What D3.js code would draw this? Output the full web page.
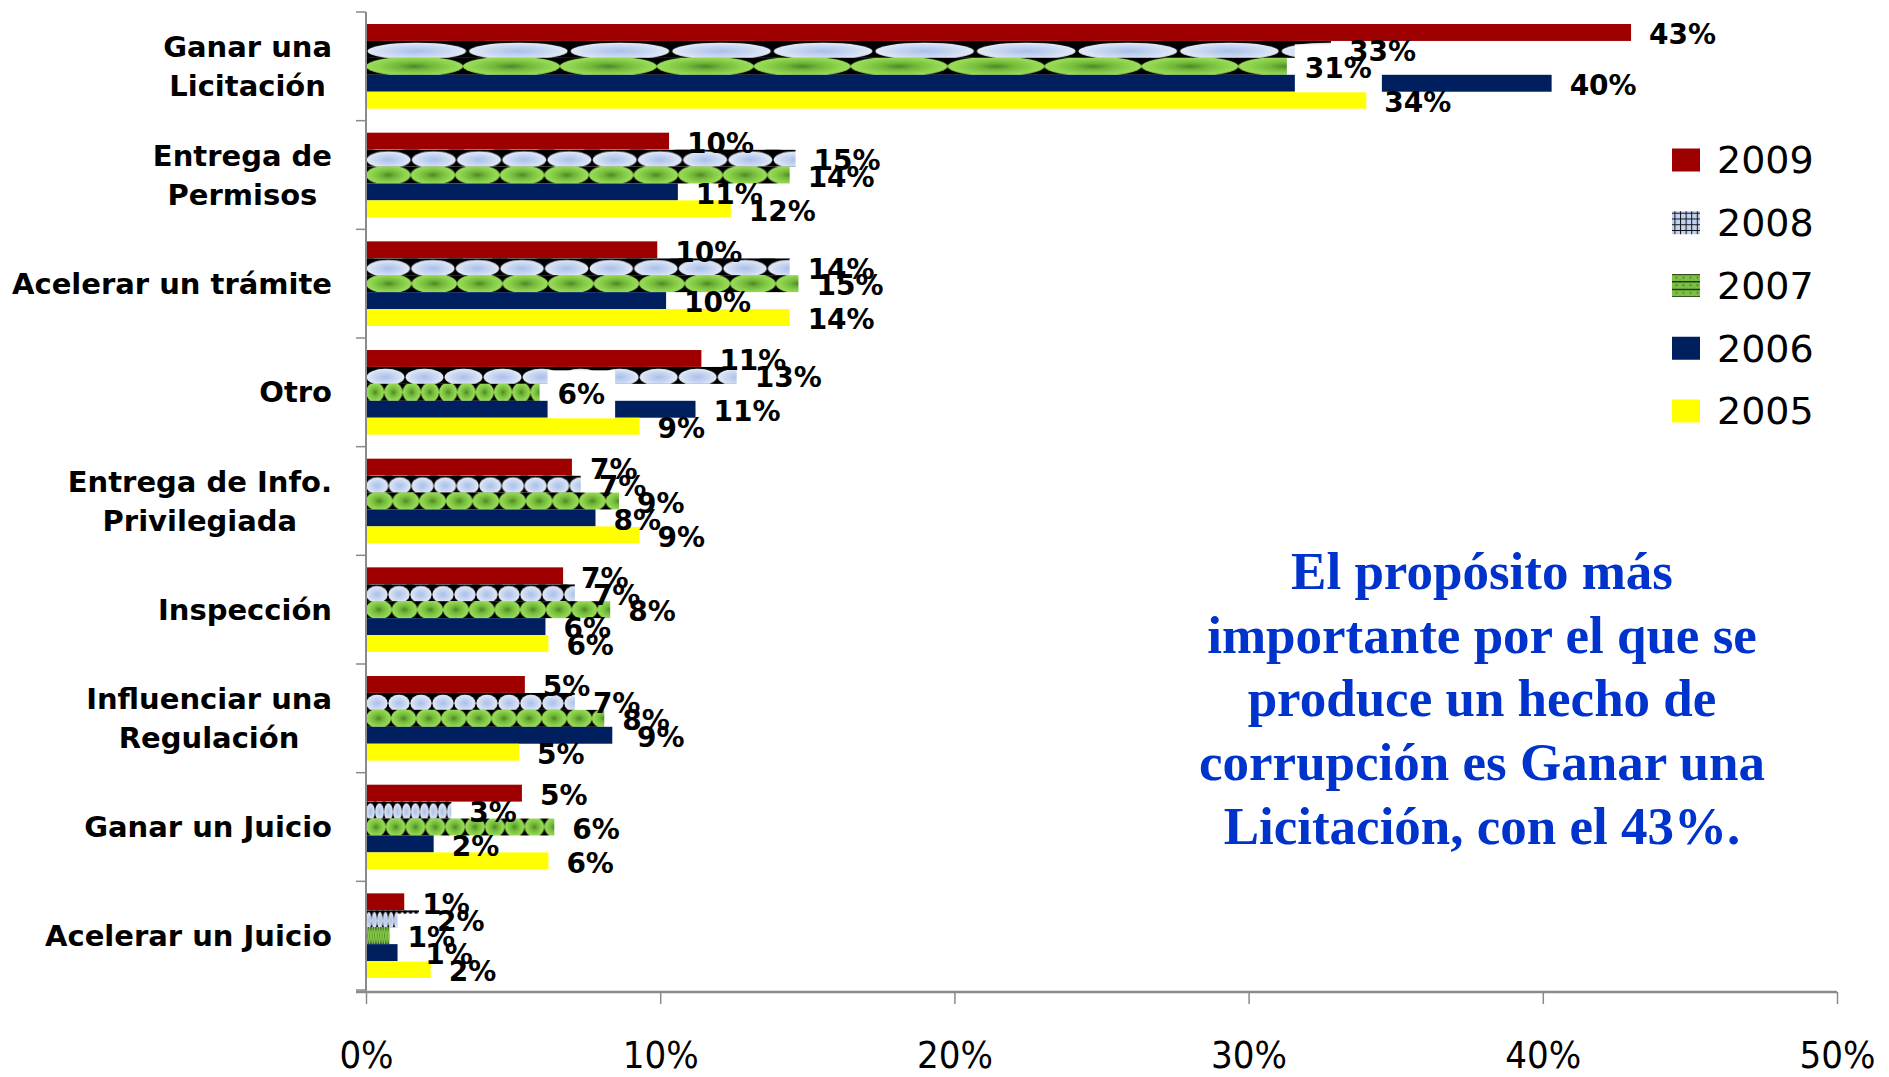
<!DOCTYPE html>
<html><head><meta charset="utf-8">
<script src="https://cdn.jsdelivr.net/npm/d3@7"></script>
<style>html,body{margin:0;padding:0;background:#fff;} svg{display:block;}</style>
</head><body>
<svg id="chart" width="1889" height="1077"></svg>
<script>
// ---------- data ----------
const categories = ["Ganar una\nLicitación", "Entrega de\nPermisos", "Acelerar un trámite", "Otro",
  "Entrega de Info.\nPrivilegiada", "Inspección", "Influenciar una\nRegulación", "Ganar un Juicio", "Acelerar un Juicio"];
const seriesNames = ["2009", "2008", "2007", "2006", "2005"];
const values2009 = [43.0, 10.3, 9.9, 11.4, 7.0, 6.7, 5.4, 5.3, 1.3];
const values2008 = [32.8, 14.6, 14.4, 12.6, 7.3, 7.1, 7.1, 2.9, 1.8];
const values2007 = [31.3, 14.4, 14.7, 5.9, 8.6, 8.3, 8.1, 6.4, 0.8];
const values2006 = [40.3, 10.6, 10.2, 11.2, 7.8, 6.1, 8.6, 2.3, 1.4];
const values2005 = [34.0, 12.4, 14.4, 9.3, 9.3, 6.2, 5.2, 6.2, 2.2];
const xTicks = [0, 10, 20, 30, 40, 50];
const annotationLines = ["El propósito más", "importante por el que se", "produce un hecho de",
  "corrupción es Ganar una", "Licitación, con el 43%."];

const seriesValues = {"2009": values2009, "2008": values2008, "2007": values2007, "2006": values2006, "2005": values2005};

// ---------- setup ----------
const svg = d3.select("#chart");
const defs = svg.append("defs");

function radial(id, stops) {
  const g = defs.append("radialGradient").attr("id", id);
  stops.forEach(([o, c]) => g.append("stop").attr("offset", o).attr("stop-color", c));
}
radial("grad2008", [["0%", "#a9c0ea"], ["60%", "#c9d7f1"], ["100%", "#e4ebf7"]]);
radial("grad2007", [["0%", "#4c8724"], ["35%", "#72b63a"], ["75%", "#8ed34d"], ["100%", "#9ade5a"]]);

const tileW = 1 / 9.5;
function tilePattern(id, grad, rxf, ry, cy) {
  const p = defs.append("pattern").attr("id", id)
    .attr("patternUnits", "objectBoundingBox").attr("patternContentUnits", "objectBoundingBox")
    .attr("width", tileW).attr("height", 1);
  p.append("rect").attr("width", tileW).attr("height", 1).attr("fill", "#000");
  p.append("ellipse").attr("cx", tileW / 2).attr("cy", cy).attr("rx", tileW / 2 * rxf).attr("ry", ry)
    .attr("fill", `url(#${grad})`);
}
tilePattern("pat2008", "grad2008", 0.97, 0.5, 0.6);
tilePattern("pat2007", "grad2007", 1, 0.58, 0.5);

// legend patterns
const lp8 = defs.append("pattern").attr("id", "leg2008").attr("patternUnits", "userSpaceOnUse")
  .attr("width", 5.6).attr("height", 5.75);
lp8.append("rect").attr("width", 5.6).attr("height", 5.75).attr("fill", "#c1d1ef");
lp8.append("path").attr("d", "M0,0.5H5.6M0.5,0V5.75").attr("stroke", "#111").attr("stroke-width", 1);
const lp7 = defs.append("pattern").attr("id", "leg2007").attr("patternUnits", "userSpaceOnUse")
  .attr("width", 7).attr("height", 7.6);
lp7.append("rect").attr("width", 7).attr("height", 7.6).attr("fill", "#7cc043");
lp7.append("path").attr("d", "M0,0.6H7").attr("stroke", "#111").attr("stroke-width", 1.2);
lp7.append("circle").attr("cx", 3.5).attr("cy", 4).attr("r", 1).attr("fill", "#4a7d22");

const barFill = {"2009": "#9e0000", "2008": "url(#pat2008)", "2007": "url(#pat2007)", "2006": "#001f5f", "2005": "#ffff00"};
const legendFill = {"2009": "#9e0000", "2008": "url(#leg2008)", "2007": "url(#leg2007)", "2006": "#001f5f", "2005": "#ffff00"};
const boxedLabelSeries = "2007";

const x = d3.scaleLinear().domain([0, 50]).range([366, 1837]);
const y0 = d3.scaleBand().domain(categories).range([12, 990]);
const y1 = d3.scaleBand().domain(seriesNames).range([0, y0.bandwidth()]).paddingOuter(0.71);

const rows = categories.flatMap((c, i) => seriesNames.map(s => ({cat: c, s, v: seriesValues[s][i]})));

// ---------- bars ----------
svg.append("g").selectAll("rect").data(rows).join("rect")
  .attr("x", x(0))
  .attr("y", d => y0(d.cat) + y1(d.s))
  .attr("width", d => x(d.v) - x(0))
  .attr("height", y1.bandwidth())
  .attr("fill", d => barFill[d.s]);

// ---------- axes ----------
const axisColor = "#8a8a8a";
const yRange = y0.range();
svg.append("line").attr("x1", x(0)).attr("x2", x(0)).attr("y1", yRange[0]).attr("y2", yRange[1] + 3)
  .attr("stroke", axisColor).attr("stroke-width", 2);
const boundaries = categories.map(c => y0(c)).concat([yRange[1]]);
svg.append("g").selectAll("line").data(boundaries).join("line")
  .attr("x1", x(0) - 10).attr("x2", x(0)).attr("y1", d => d).attr("y2", d => d)
  .attr("stroke", axisColor).attr("stroke-width", 1.5);

const xAxis = d3.axisBottom(x).tickValues(xTicks).tickFormat(d => d + "%").tickSize(12).tickSizeOuter(0);
const gx = svg.append("g").attr("transform", `translate(0,${yRange[1] + 2})`).call(xAxis);
gx.select(".domain").attr("d", `M${x(0) - 10},0H${x(50)}`).attr("stroke", axisColor).attr("stroke-width", 2.5);
gx.selectAll(".tick line").attr("stroke", axisColor).attr("stroke-width", 1.5);
gx.selectAll(".tick text").attr("y", 63).attr("dy", "0.35em")
  .attr("font-family", "'DejaVu Sans Condensed', 'DejaVu Sans'").attr("font-size", 38).attr("fill", "#000");

// ---------- category labels ----------
const catG = svg.append("g").attr("font-family", "DejaVu Sans").attr("font-weight", "bold")
  .attr("font-size", 29).attr("fill", "#000");
const lineH = 39;
categories.forEach(c => {
  const lines = c.split("\n");
  const cy = y0(c) + y0.bandwidth() / 2;
  const t = catG.selectAll(null).data(lines).join("text")
    .attr("y", (d, i) => cy + (i - (lines.length - 1) / 2) * lineH)
    .attr("dy", "0.35em").attr("text-anchor", "middle").text(d => d);
  let maxW = 0;
  t.each(function () { maxW = Math.max(maxW, this.getComputedTextLength()); });
  t.attr("x", 332 - maxW / 2);
});

// ---------- data labels ----------
const boxG = svg.append("g");
const labG = svg.append("g").attr("font-family", "DejaVu Sans").attr("font-weight", "bold")
  .attr("font-size", 28).attr("fill", "#000");
labG.selectAll("text").data(rows).join("text")
  .attr("x", d => x(d.v) + 18)
  .attr("y", d => y0(d.cat) + y1(d.s) + y1.bandwidth() / 2 + 2)
  .attr("dy", "0.35em")
  .text(d => Math.round(d.v) + "%")
  .each(function (d) {
    if (d.s === boxedLabelSeries) {
      const w = this.getComputedTextLength();
      const ty = y0(d.cat) + y1(d.s) + y1.bandwidth() / 2 + 2;
      boxG.append("rect").attr("x", x(d.v) + 8).attr("y", ty - 24)
        .attr("width", w + 20).attr("height", 48).attr("fill", "#fff");
    }
  });

// ---------- legend ----------
const ly = d3.scalePoint().domain(seriesNames).range([160, 411]);
const lg = svg.append("g");
lg.selectAll("rect").data(seriesNames).join("rect")
  .attr("x", 1672).attr("y", d => ly(d) - 11.5).attr("width", 28).attr("height", 23)
  .attr("fill", d => legendFill[d]);
lg.selectAll("text").data(seriesNames).join("text")
  .attr("x", 1717).attr("y", d => ly(d)).attr("dy", "0.35em")
  .attr("font-family", "DejaVu Sans").attr("font-size", 38).attr("fill", "#000").text(d => d);

// ---------- annotation ----------
svg.append("g").attr("font-family", "Liberation Serif").attr("font-weight", "bold")
  .attr("font-size", 53).attr("fill", "#0033cc").attr("text-anchor", "middle")
  .selectAll("text").data(annotationLines).join("text")
  .attr("x", 1482).attr("y", (d, i) => 589 + i * 63.7).text(d => d);
</script>
</body></html>
